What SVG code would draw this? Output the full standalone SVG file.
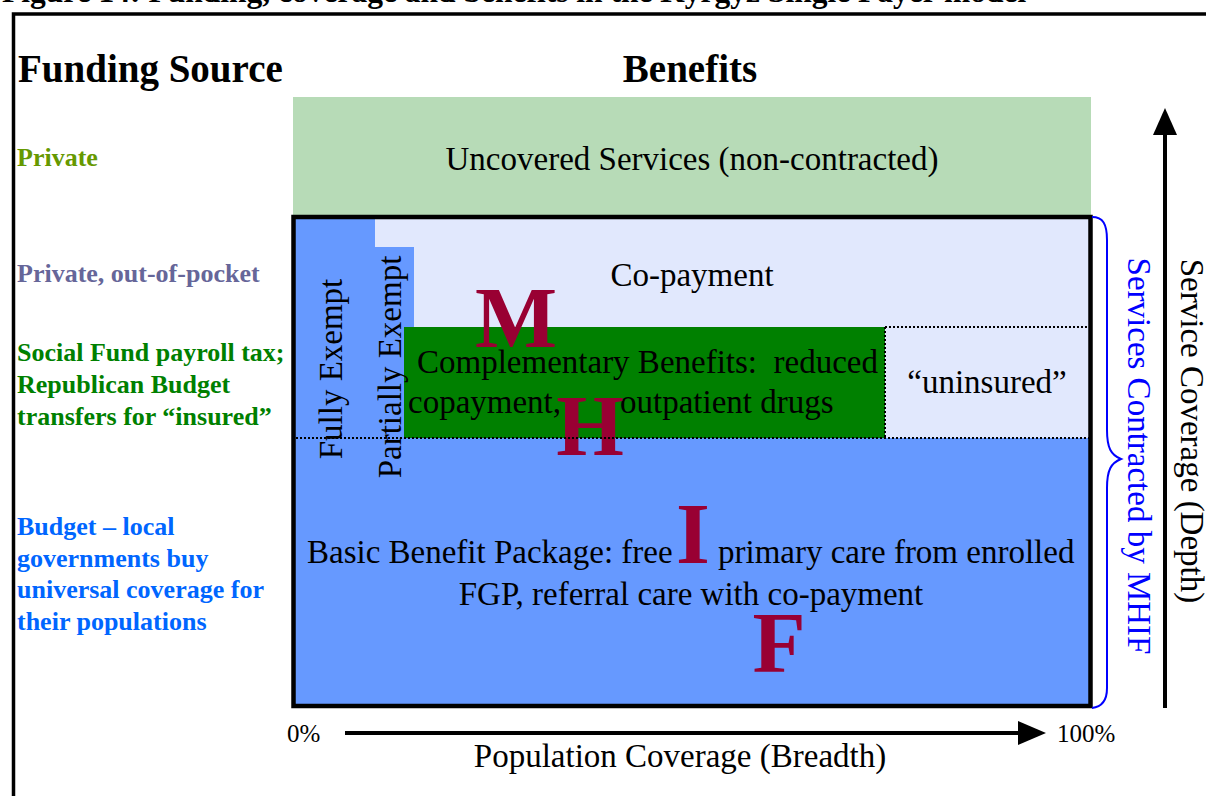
<svg xmlns="http://www.w3.org/2000/svg" width="1206" height="796" viewBox="0 0 1206 796">
  <style>
    text { font-family: "Liberation Serif", "Times New Roman", serif; }
    .b { font-weight: bold; }
    .body { font-size: 33px; }
    .src { font-size: 26px; font-weight: bold; }
    .olive { fill: #669900; }
    .slate { fill: #666699; }
    .green { fill: #008000; }
    .azure { fill: #0066ff; }
    .blue { fill: #0000ff; }
    .big { font-size: 87px; font-weight: bold; fill: #990033; text-anchor: middle; }
    .dot { stroke: #000; stroke-width: 2; stroke-dasharray: 2 2; fill: none; }
    .axis { stroke: #000; stroke-width: 4; fill: none; }
  </style>
  <rect width="1206" height="796" fill="#fff"/>

  <!-- figure caption and frame -->
  <g id="caption">
    <text class="b" x="2" y="2" font-size="31.5">Figure 14: Funding, coverage and benefits in the Kyrgyz Single Payer model</text>
    <path d="M13.5,796 V14 H1206" stroke="#000" stroke-width="3.5" fill="none"/>
  </g>

  <!-- column headings -->
  <g id="headings">
    <text class="b" x="18" y="82" font-size="39">Funding Source</text>
    <text class="b" x="690" y="82" font-size="39" text-anchor="middle">Benefits</text>
  </g>

  <!-- funding source labels -->
  <g id="funding">
    <text class="src olive" x="17" y="166">Private</text>
    <text class="src slate" x="17" y="282">Private, out-of-pocket</text>
    <text class="src green">
      <tspan x="17" y="361">Social Fund payroll tax;</tspan>
      <tspan x="17" y="393">Republican Budget</tspan>
      <tspan x="17" y="425">transfers for “insured”</tspan>
    </text>
    <text class="src azure">
      <tspan x="17" y="535">Budget – local</tspan>
      <tspan x="17" y="567">governments buy</tspan>
      <tspan x="17" y="598">universal coverage for</tspan>
      <tspan x="17" y="630">their populations</tspan>
    </text>
  </g>

  <!-- uncovered services band -->
  <g id="uncovered">
    <rect x="293" y="97" width="798" height="120" fill="#b7dbb7"/>
    <text class="body" x="692" y="170" text-anchor="middle">Uncovered Services (non-contracted)</text>
  </g>

  <!-- contracted services block -->
  <g id="contracted">
    <rect x="294" y="217" width="796" height="221" fill="#e1e8fd"/>
    <rect x="294" y="438" width="796" height="268" fill="#6699ff"/>
    <rect x="294" y="217" width="81" height="221" fill="#6699ff"/>
    <rect x="375" y="247" width="39" height="191" fill="#6699ff"/>
  </g>

  <g id="copayment">
    <text class="body" x="692" y="286" text-anchor="middle">Co-payment</text>
  </g>

  <g id="complementary">
    <rect x="404" y="327" width="481" height="111" fill="#008000"/>
    <text class="body" x="417" y="373" xml:space="preserve">Complementary Benefits:  reduced</text>
    <text class="body" x="408" y="413">copayment,</text>
    <text class="body" x="620" y="413">outpatient drugs</text>
  </g>

  <g id="uninsured">
    <text class="body" x="987" y="393" text-anchor="middle">“uninsured”</text>
  </g>

  <g id="exempt">
    <text class="body" font-size="30" text-anchor="middle" transform="translate(342,369) rotate(-90)">Fully Exempt</text>
    <text class="body" font-size="32" text-anchor="middle" transform="translate(401,367) rotate(-90)">Partially Exempt</text>
  </g>

  <g id="basic">
    <text class="body" x="307" y="563">Basic Benefit Package: free</text>
    <text class="body" x="718" y="563">primary care from enrolled</text>
    <text class="body" x="691" y="605" text-anchor="middle">FGP, referral care with co-payment</text>
  </g>

  <!-- MHIF lettering -->
  <g id="mhif">
    <text class="big" x="516" y="347">M</text>
    <text class="big" x="590" y="455">H</text>
    <text class="big" x="693" y="563">I</text>
    <text class="big" x="779" y="672">F</text>
  </g>

  <!-- connectors: boundaries, brace and axes -->
  <g id="connectors">
    <path class="dot" d="M296,438 H1090 M885,327 H1090 M885,327 V438"/>
    <rect x="293.5" y="217" width="797" height="489" fill="none" stroke="#000" stroke-width="4.5"/>
    <path d="M1092,217 C1103,217 1107,224 1107,240 L1107,430 C1107,448 1111,455 1121,459 C1111,463 1107,470 1107,488 L1107,688 C1107,701 1101,707 1092,708" fill="none" stroke="#0000ff" stroke-width="2"/>
    <line class="axis" x1="1165" y1="708" x2="1165" y2="132"/>
    <polygon points="1153,135 1165,108 1177,135" fill="#000"/>
    <line class="axis" x1="345" y1="733" x2="1021" y2="733"/>
    <polygon points="1018,721 1046,733 1018,745" fill="#000"/>
  </g>

  <g id="axis-labels">
    <text class="body blue" text-anchor="middle" transform="translate(1128,456) rotate(90)">Services Contracted by MHIF</text>
    <text class="body" text-anchor="middle" transform="translate(1181,431) rotate(90)">Service Coverage (Depth)</text>
    <text x="287" y="742" font-size="25">0%</text>
    <text x="1057" y="742" font-size="25">100%</text>
    <text class="body" x="680" y="767" text-anchor="middle">Population Coverage (Breadth)</text>
  </g>
</svg>
